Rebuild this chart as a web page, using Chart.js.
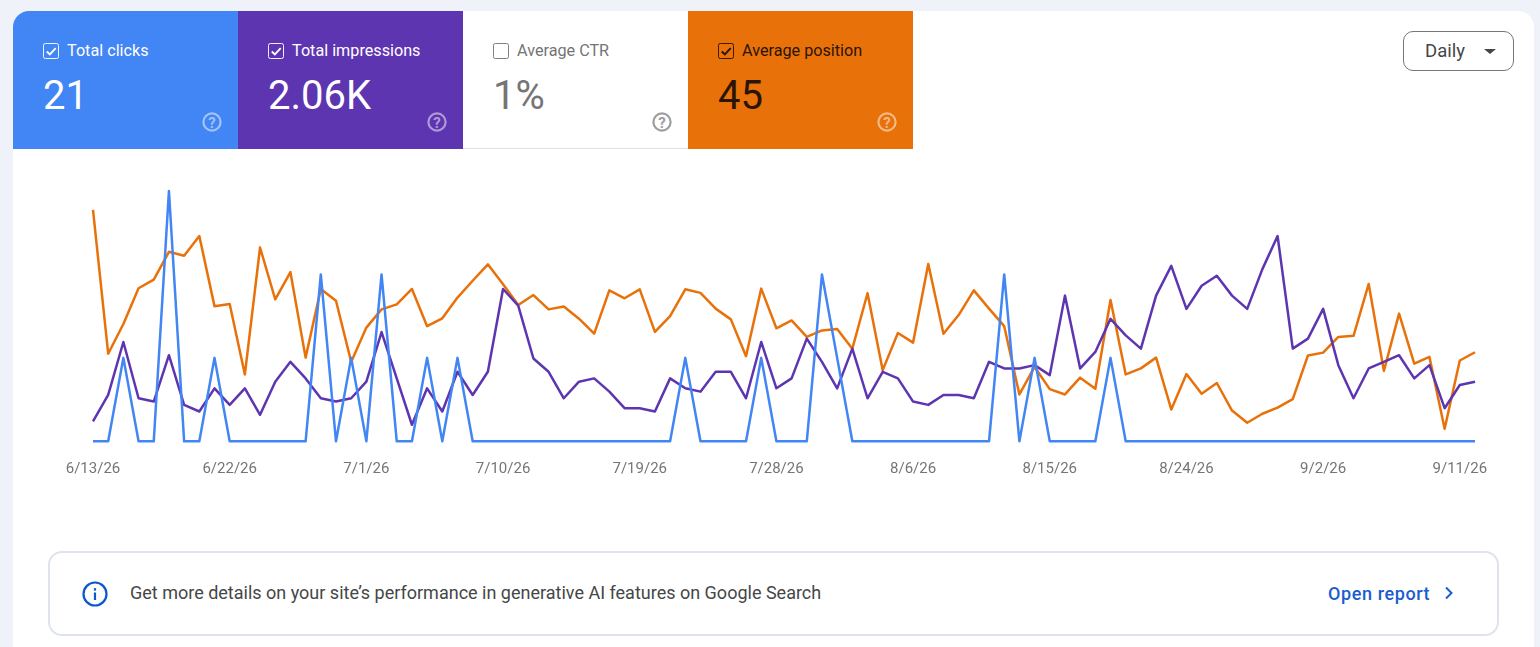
<!DOCTYPE html>
<html>
<head>
<meta charset="utf-8">
<title>Performance</title>
<script src="https://cdn.jsdelivr.net/npm/chart.js@4"></script>
<style>
    html, body { margin: 0; padding: 0; width: 1540px; height: 647px; overflow: hidden; background: #eff3f9; font-family: Roboto, sans-serif; }
    .card { position: absolute; left: 13px; top: 11px; width: 1521px; height: 660px; background: #fff; border-radius: 16px 16px 0 0; overflow: hidden; }
    .tile { position: absolute; top: 0; width: 225px; height: 138px; color: #fff; }
    .tile.clicks { left: 0; background: #4285f4; }
    .tile.impressions { left: 225px; background: #5e35b1; }
    .tile.ctr { left: 450px; height: 137px; background: #fff; color: #757575; border-bottom: 1px solid #e0e0e0; }
    .tile.position { left: 675px; background: #e8710a; color: #2b1402; }
    .tile .label { position: absolute; left: 54px; top: 30px; font-size: 16.2px; line-height: 19px; white-space: nowrap; }
    .tile .value { position: absolute; left: 30px; top: 61px; font-size: 40px; line-height: 48px; white-space: nowrap; }
    .tile svg.check { position: absolute; left: 30px; top: 32px; }
    .tile svg.help { position: absolute; left: 189px; top: 101px; }
    .daily { position: absolute; left: 1403px; top: 31px; width: 109px; height: 38px; border: 1px solid #747775; border-radius: 10px; background: #fff; color: #444746; font-size: 18.5px; line-height: 38px; }
    .daily span { position: absolute; left: 21px; }
    .daily i { position: absolute; left: 80px; top: 17px; width: 0; height: 0; border-left: 6px solid transparent; border-right: 6px solid transparent; border-top: 5px solid #444746; }
    #chart { position: absolute; left: 0; top: 150px; }
    .banner { position: absolute; left: 48px; top: 551px; width: 1447px; height: 81px; border: 2px solid #dfe3ee; border-radius: 14px; background: #fff; }
    .banner svg.info { position: absolute; left: 31px; top: 27px; }
    .banner .msg { position: absolute; left: 80px; top: 29px; font-size: 18px; line-height: 22px; color: #444746; white-space: nowrap; }
    .banner .link { position: absolute; left: 1278px; top: 30px; font-size: 18px; line-height: 22px; font-weight: 500; letter-spacing: 0.6px; color: #1a5dcf; white-space: nowrap; }
    .banner svg.chev { position: absolute; left: 1393px; top: 32px; }
</style>
</head>
<body>
<div class="card">
    <div class="tile clicks"></div>
    <div class="tile impressions"></div>
    <div class="tile ctr"></div>
    <div class="tile position"></div>
</div>
<div class="daily"><span>Daily</span><i></i></div>
<canvas id="chart" width="1540" height="340"></canvas>
<div class="banner">
    <svg class="info" width="28" height="28" viewBox="0 0 28 28"><circle cx="14" cy="14" r="11.5" fill="none" stroke="#0b57d0" stroke-width="2.2"/><rect x="12.9" y="12.5" width="2.2" height="7.5" fill="#0b57d0"/><rect x="12.9" y="8.2" width="2.2" height="2.4" fill="#0b57d0"/></svg>
    <div class="msg">Get more details on your site’s performance in generative AI features on Google Search</div>
    <div class="link">Open report</div>
    <svg class="chev" width="12" height="16" viewBox="0 0 12 16"><path d="M3 2.5 L8.5 8 L3 13.5" fill="none" stroke="#1a5dcf" stroke-width="2"/></svg>
</div>

<script>
// Daily dates on the x axis, one label every nine days
const dates = ['6/13/26','6/14/26','6/15/26','6/16/26','6/17/26','6/18/26','6/19/26','6/20/26','6/21/26','6/22/26',
    '6/23/26','6/24/26','6/25/26','6/26/26','6/27/26','6/28/26','6/29/26','6/30/26','7/1/26','7/2/26',
    '7/3/26','7/4/26','7/5/26','7/6/26','7/7/26','7/8/26','7/9/26','7/10/26','7/11/26','7/12/26',
    '7/13/26','7/14/26','7/15/26','7/16/26','7/17/26','7/18/26','7/19/26','7/20/26','7/21/26','7/22/26',
    '7/23/26','7/24/26','7/25/26','7/26/26','7/27/26','7/28/26','7/29/26','7/30/26','7/31/26','8/1/26',
    '8/2/26','8/3/26','8/4/26','8/5/26','8/6/26','8/7/26','8/8/26','8/9/26','8/10/26','8/11/26',
    '8/12/26','8/13/26','8/14/26','8/15/26','8/16/26','8/17/26','8/18/26','8/19/26','8/20/26','8/21/26',
    '8/22/26','8/23/26','8/24/26','8/25/26','8/26/26','8/27/26','8/28/26','8/29/26','8/30/26','8/31/26',
    '9/1/26','9/2/26','9/3/26','9/4/26','9/5/26','9/6/26','9/7/26','9/8/26','9/9/26','9/10/26',
    '9/11/26','9/12/26'];

const clicks = [0,0,1,0,0,3,0,0,1,0, 0,0,0,0,0,2,0,1,0,2,
    0,0,1,0,1,0,0,0,0,0, 0,0,0,0,0,0,0,0,0,1,
    0,0,0,0,1,0,0,0,2,1, 0,0,0,0,0,0,0,0,0,0,
    2,0,1,0,0,0,0,1,0,0, 0,0,0,0,0,0,0,0,0,0,
    0,0,0,0,0,0,0,0,0,0, 0,0];

const impressions = [6,14,30,13,12,26,11,9,16,11, 16,8,18,24,19,13,12,13,18,33,
    19,5,16,9,21,14,21,46,41,25, 21,13,18,19,15,10,10,9,19,16,
    15,21,21,13,30,16,19,31,24,16, 28,13,21,19,12,11,14,14,13,24,
    22,22,23,20,44,22,27,37,32,28, 44,53,40,47,50,44,40,52,62,28,
    31,40,23,13,22,24,26,19,23,10, 17,18];

const positions = [15.3,55.5,47.2,37.2,34.8,27.0,28.1,22.6,42.2,41.6,
    61.3,25.8,40.3,32.7,56.6,37.4,40.7,57.8,48.2,43.1,
    41.7,37.4,47.8,45.6,39.8,35.1,30.5,36.1,41.9,39.1,
    43.1,42.3,45.7,49.9,37.8,40.0,37.5,49.4,45.0,37.5,
    38.5,42.9,45.9,56.2,37.3,48.4,46.2,50.8,49.0,48.6,
    54.1,38.6,60.1,49.7,52.4,30.4,49.9,44.7,37.8,42.9,
    47.8,66.9,59.2,65.4,66.9,62.2,65.3,40.5,61.3,59.6,
    56.6,71.1,61.2,66.7,63.7,71.4,74.8,72.3,70.6,68.2,
    56.0,55.2,50.8,50.5,36.0,60.3,44.3,58.3,56.4,76.5,
    57.4,55.1];

// Summary tiles
const tileLabels = ['Total clicks', 'Total impressions', 'Average CTR', 'Average position'];
const tileValues = ['21', '2.06K', '1%', '45'];
const tileClasses = ['clicks', 'impressions', 'ctr', 'position'];
const tileChecked = [true, true, false, true];
const tileInk = ['#fff', '#fff', '#757575', '#2b1402'];

tileClasses.forEach((cls, i) => {
    const tile = document.querySelector('.tile.' + cls);
    const tick = tileChecked[i]
        ? `<path d="M4 9 L7.3 12.2 L13.5 5.5" fill="none" stroke="${tileInk[i]}" stroke-width="2"/>` : '';
    const helpInk = cls === 'ctr' ? '#9e9e9e' : 'rgba(255,255,255,0.5)';
    tile.innerHTML = `
        <svg class="check" width="16" height="16" viewBox="0 0 17 17"><rect x="0.5" y="0.5" width="16" height="16" rx="2" fill="none" stroke="${tileInk[i]}" stroke-width="1"/>${tick}</svg>
        <div class="label">${tileLabels[i]}</div>
        <div class="value">${tileValues[i]}</div>
        <svg class="help" width="20" height="20" viewBox="0 0 20 20"><circle cx="10" cy="10" r="8.6" fill="none" stroke="${helpInk}" stroke-width="2.2"/><text x="10" y="15.5" text-anchor="middle" font-family="Roboto" font-weight="700" font-size="15" fill="${helpInk}">?</text></svg>`;
});

function lineSet(data, color, axis) {
    return { data: data, borderColor: color, borderWidth: 2.5, borderJoinStyle: 'round', pointRadius: 0, tension: 0, yAxisID: axis, clip: false };
}

new Chart(document.getElementById('chart').getContext('2d'), {
    type: 'line',
    data: {
        labels: dates,
        datasets: [
            lineSet(clicks, '#4285f4', 'yClicks'),
            lineSet(impressions, '#5e35b1', 'yImpressions'),
            lineSet(positions, '#e8710a', 'yPosition')
        ]
    },
    options: {
        responsive: false,
        animation: false,
        layout: { padding: { left: 93, right: 65, top: 41, bottom: 0 } },
        plugins: { legend: { display: false }, tooltip: { enabled: false } },
        scales: {
            x: {
                grid: { display: false },
                border: { display: false },
                afterFit: s => { s.height = 48.7; },
                ticks: {
                    autoSkip: false,
                    maxRotation: 0,
                    padding: 11,
                    color: '#757575',
                    font: { family: 'Roboto', size: 15 },
                    callback: (v, i) => (i % 9 === 0 ? dates[i] : '')
                }
            },
            yClicks: { display: false, min: 0, max: 3 },
            yImpressions: { display: false, min: 0, max: 75.6 },
            yPosition: { display: false, reverse: true, min: 10, max: 80 }
        }
    }
});
</script>
</body>
</html>
